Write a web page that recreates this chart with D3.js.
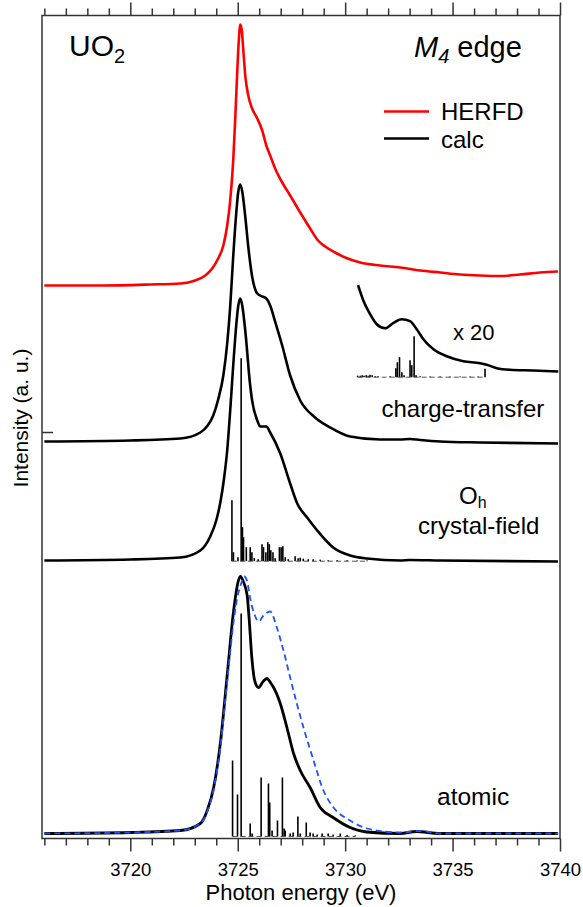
<!DOCTYPE html>
<html><head><meta charset="utf-8">
<script src="https://cdn.jsdelivr.net/npm/d3@7"></script>
<style>
body{margin:0;background:#fff}
svg{display:block}
text{font-family:"Liberation Sans",Arial,Helvetica,sans-serif;fill:#000}
</style>
</head><body>
<svg id="chart" width="583" height="907"></svg>
<script>
// ---------- data (energy in eV, intensity in arbitrary units) ----------
const majorTicks = [3720, 3725, 3730, 3735, 3740];
const tickLabels = ["3720", "3725", "3730", "3735", "3740"];
const minorTicks = [3716,3717,3718,3719,3721,3722,3723,3724,3726,3727,3728,3729,3731,3732,3733,3734,3736,3737,3738,3739];

// vertical stacking offsets (a.u.)
const offHerfd = 553, offCT = 397, offInset = 461.3, offOh = 278, offOhSticks = 277.3, offAtomic = 5, offAtomicSticks = 2;

const herfd = [
 [3716.0,0],[3718.6,0],[3720.93,1],[3722.33,2],[3723.02,5],[3723.49,10],[3723.81,17],[3724.09,27],
 [3724.33,40],[3724.51,60],[3724.65,85],[3724.79,125],[3724.88,165],[3724.98,215],[3725.05,245],
 [3725.12,261],[3725.19,255],[3725.26,235],[3725.35,210],[3725.49,190],[3725.67,177],[3725.91,167],
 [3726.14,155],[3726.33,140],[3726.51,130],[3726.74,117],[3727.07,103],[3727.44,90],[3727.91,73],
 [3728.37,57],[3728.74,45],[3729.07,39],[3729.53,33],[3730.0,28],[3730.7,23],[3731.63,20],
 [3732.56,18],[3733.49,15],[3734.42,13],[3735.35,11],[3736.28,10],[3737.21,9.5],[3738.14,11],
 [3739.07,13],[3739.91,14]
];

const chargeTransfer = [
 [3716.0,0],[3720.0,1],[3722.33,3],[3723.26,9],[3723.6,16],[3723.86,26],[3724.09,42],[3724.33,66],
 [3724.51,98],[3724.65,135],[3724.79,185],[3724.93,228],[3725.02,249],[3725.12,257],[3725.21,250],
 [3725.35,225],[3725.49,195],[3725.67,165],[3725.91,148],[3726.14,145],[3726.33,143],[3726.51,136],
 [3726.74,120],[3727.07,96],[3727.44,66],[3727.91,41],[3728.6,24],[3729.3,14],[3730.23,5],[3731.63,2],
 [3732.56,2],[3733.02,2.5],[3733.49,1.5],[3734.42,0],[3736.28,-1],[3739.91,-2]
];

const ctZoom = [
 [3730.60,92],[3730.84,77],[3731.16,63],[3731.47,53],[3731.86,49],[3732.23,54],[3732.63,58],
 [3733.02,56],[3733.33,48],[3733.64,38],[3734.11,28],[3734.73,21],[3735.50,16],[3736.28,14],
 [3736.59,12.4],[3737.06,9],[3737.67,7.4],[3738.74,6.7],[3739.92,5.7]
];
const ctZoomSticks = [
 [3730.58,1.5],[3730.70,1.5],[3730.79,2],[3730.88,1.5],[3730.98,2],[3731.07,1.5],[3731.16,2.5],
 [3731.26,2],[3731.40,1],[3731.53,1],[3732.09,1],[3732.36,9],[3732.43,15],[3732.53,20],[3732.64,5],
 [3732.74,2],[3733.02,17],[3733.10,12],[3733.21,41],[3733.30,2],[3733.49,1],[3733.95,0.7],
 [3734.42,0.8],[3734.88,0.6],[3735.35,0.8],[3735.81,0.6],[3736.19,0.8],[3736.51,8.4]
];

const crystalField = [
 [3716.0,0],[3720.0,1],[3722.33,3],[3723.26,10],[3723.72,24],[3724.0,40],[3724.19,58],[3724.35,80],
 [3724.51,110],[3724.65,150],[3724.79,195],[3724.93,235],[3725.02,254],[3725.12,262],[3725.21,255],
 [3725.35,230],[3725.58,175],[3725.67,160],[3725.91,140],[3726.05,134],[3726.33,134],[3726.51,128],
 [3726.98,107],[3727.44,77],[3727.77,57],[3728.23,43],[3728.7,30],[3729.44,13],[3730.23,5],[3731.02,2],
 [3732.56,0],[3733.02,0.5],[3734.42,0],[3739.91,-1]
];
const crystalFieldSticks = [
 [3724.73,61],[3724.80,9],[3725.01,4],[3725.16,203],[3725.22,34],[3725.27,24],[3725.40,14],[3725.58,14],
 [3725.66,9],[3725.77,3],[3725.95,2],[3726.13,17],[3726.20,14],[3726.31,9],[3726.40,19],[3726.47,17],
 [3726.54,11],[3726.64,9],[3726.74,3],[3726.94,14],[3727.02,14],[3727.10,15],[3727.21,4],[3727.35,2],
 [3727.67,5],[3727.81,3],[3727.91,3.5],[3728.05,2.5],[3728.28,2],[3728.51,2],[3728.84,1.5],[3729.21,1],
 [3729.63,1],[3730.09,1],[3730.56,0.7],[3731.02,0.7]
];

const atomic = [
 [3716.0,0],[3720.0,1],[3722.33,3],[3723.26,10],[3723.58,23],[3723.88,46],[3724.19,90],[3724.5,156],
 [3724.81,223],[3725.02,252],[3725.12,257],[3725.26,252],[3725.44,238],[3725.53,215],[3725.66,175],
 [3725.8,152],[3725.97,146],[3726.18,152],[3726.36,155],[3726.55,150],[3726.67,146],[3726.98,130],
 [3727.29,106],[3727.6,80],[3727.91,63],[3728.37,46],[3728.84,26],[3729.44,16],[3730.23,6],
 [3731.0,1.5],[3732.56,0],[3733.3,2],[3734.42,0],[3739.91,0]
];
const atomicRef = [
 [3716.0,0],[3720.0,1],[3722.33,3],[3723.26,10],[3723.58,22],[3723.88,44],[3724.19,86],[3724.5,150],
 [3724.81,212],[3725.02,240],[3725.16,250],[3725.3,257],[3725.44,252],[3725.58,235],[3725.8,218],
 [3725.97,212],[3726.2,218],[3726.51,222],[3726.82,206],[3727.13,183],[3727.44,156],[3727.75,130],
 [3728.06,106],[3728.53,73],[3728.99,43],[3729.46,26],[3730.23,13],[3731.02,5],[3732.56,1],
 [3733.5,2.5],[3734.42,0],[3739.91,0]
];
const atomicSticks = [
 [3724.76,76],[3724.99,42],[3725.16,223],[3725.58,13],[3725.67,3],[3726.09,59],[3726.43,53],[3726.49,34],
 [3726.6,6],[3726.85,16],[3727.08,59],[3727.16,8],[3727.21,6],[3727.44,3],[3727.58,4],[3727.8,20],
 [3727.91,3],[3728.19,14],[3728.37,4],[3728.51,3],[3728.7,2],[3728.93,3],[3729.21,3],[3729.44,2],
 [3729.77,3],[3730.09,1.5],[3730.47,1]
];

// ---------- layout ----------
const svg = d3.select("#chart");
const L = 42, R = 560, T = 15.5, B = 838.5;
const x = d3.scaleLinear().domain([3715.89, 3740]).range([L, R]);
const y = d3.scaleLinear().domain([0, 823]).range([B, T]);

const line = (off) => d3.line()
  .x(d => x(d[0])).y(d => y(off + d[1]))
  .curve(d3.curveMonotoneX);

// frame
svg.append("rect").attr("x", L).attr("y", T).attr("width", R - L).attr("height", B - T)
  .attr("fill", "none").attr("stroke", "#333").attr("stroke-width", 1.5);

// axes
const axB = svg.append("g").attr("transform", `translate(0,${B})`)
  .call(d3.axisBottom(x).tickValues(majorTicks).tickSize(13).tickPadding(24)
    .tickFormat((d, i) => tickLabels[i]));
const axBm = svg.append("g").attr("transform", `translate(0,${B})`)
  .call(d3.axisBottom(x).tickValues(minorTicks).tickSize(7).tickFormat(""));
const axT = svg.append("g").attr("transform", `translate(0,${T})`)
  .call(d3.axisTop(x).tickValues(majorTicks).tickSize(13).tickFormat(""));
const axTm = svg.append("g").attr("transform", `translate(0,${T})`)
  .call(d3.axisTop(x).tickValues(minorTicks).tickSize(7).tickFormat(""));
[axB, axBm, axT, axTm].forEach(g => {
  g.select(".domain").remove();
  g.selectAll(".tick line").attr("stroke", "#333").attr("stroke-width", 1.5);
});
axB.selectAll(".tick text").attr("font-size", 18.5).attr("fill", "#000")
  .attr("font-family", '"Liberation Sans",Arial,sans-serif').attr("dy", 0).attr("y", 37.5);

// small inner tick on left axis
svg.append("line").attr("x1", L).attr("x2", L + 11).attr("y1", y(406)).attr("y2", y(406))
  .attr("stroke", "#333").attr("stroke-width", 1.5);

// sticks
function sticks(data, off, w) {
  svg.append("g").selectAll("line").data(data).join("line")
    .attr("x1", d => x(d[0])).attr("x2", d => x(d[0]))
    .attr("y1", y(off)).attr("y2", d => y(off + d[1]))
    .attr("stroke", "#000").attr("stroke-width", w);
}
sticks(crystalFieldSticks, offOhSticks, 1.6);
sticks(atomicSticks, offAtomicSticks, 1.6);
sticks(ctZoomSticks, offInset, 1.6);
// stick baselines
[[crystalFieldSticks, offOhSticks], [atomicSticks, offAtomicSticks], [ctZoomSticks, offInset]].forEach(([d, off]) => {
  svg.append("line").attr("x1", x(d[0][0])).attr("x2", x(d[d.length - 1][0]))
    .attr("y1", y(off)).attr("y2", y(off)).attr("stroke", "#555").attr("stroke-width", 1)
    .attr("stroke-dasharray", "5,3");
});

// curves
svg.append("path").datum(herfd).attr("d", line(offHerfd))
  .attr("fill", "none").attr("stroke", "#ff0000").attr("stroke-width", 2.6);
svg.append("path").datum(chargeTransfer).attr("d", line(offCT))
  .attr("fill", "none").attr("stroke", "#000").attr("stroke-width", 2.6);
svg.append("path").datum(ctZoom).attr("d", line(offInset))
  .attr("fill", "none").attr("stroke", "#000").attr("stroke-width", 2.6);
svg.append("path").datum(crystalField).attr("d", line(offOh))
  .attr("fill", "none").attr("stroke", "#000").attr("stroke-width", 2.6);
svg.append("path").datum(atomic).attr("d", line(offAtomic))
  .attr("fill", "none").attr("stroke", "#000").attr("stroke-width", 2.8);
svg.append("path").datum(atomicRef).attr("d", line(offAtomic))
  .attr("fill", "none").attr("stroke", "#1f50ff").attr("stroke-width", 1.8)
  .attr("stroke-dasharray", "6,4");

// legend
svg.append("line").attr("x1", 384).attr("x2", 429).attr("y1", 111.5).attr("y2", 111.5)
  .attr("stroke", "#ff0000").attr("stroke-width", 2.6);
svg.append("line").attr("x1", 384).attr("x2", 429).attr("y1", 138.5).attr("y2", 138.5)
  .attr("stroke", "#000").attr("stroke-width", 2.6);
svg.append("text").attr("x", 441).attr("y", 120).attr("font-size", 24).text("HERFD");
svg.append("text").attr("x", 441).attr("y", 148).attr("font-size", 24).text("calc");

// labels
const uo = svg.append("text").attr("x", 69).attr("y", 55.5).attr("font-size", 30);
uo.append("tspan").text("UO");
uo.append("tspan").attr("font-size", 20).attr("dy", 7).text("2");

const me = svg.append("text").attr("x", 414).attr("y", 56.5).attr("font-size", 29);
me.append("tspan").attr("font-style", "italic").text("M");
me.append("tspan").attr("font-style", "italic").attr("font-size", 20).attr("dy", 6).text("4");
me.append("tspan").attr("dy", -6).text(" edge");

svg.append("text").attr("x", 453).attr("y", 340).attr("font-size", 22).text("x 20");
svg.append("text").attr("x", 381.5).attr("y", 416.5).attr("font-size", 24).text("charge-transfer");
const oh = svg.append("text").attr("x", 459).attr("y", 504).attr("font-size", 24);
oh.append("tspan").text("O");
oh.append("tspan").attr("font-size", 16).attr("dy", 4).text("h");
svg.append("text").attr("x", 418).attr("y", 534).attr("font-size", 24).text("crystal-field");
svg.append("text").attr("x", 437).attr("y", 805).attr("font-size", 24.5).text("atomic");

svg.append("text").attr("x", (L + R) / 2).attr("y", 900).attr("text-anchor", "middle")
  .attr("font-size", 22).text("Photon energy (eV)");
svg.append("text").attr("transform", "translate(28,418) rotate(-90)").attr("text-anchor", "middle")
  .attr("font-size", 21).text("Intensity (a. u.)");
</script>
</body></html>
